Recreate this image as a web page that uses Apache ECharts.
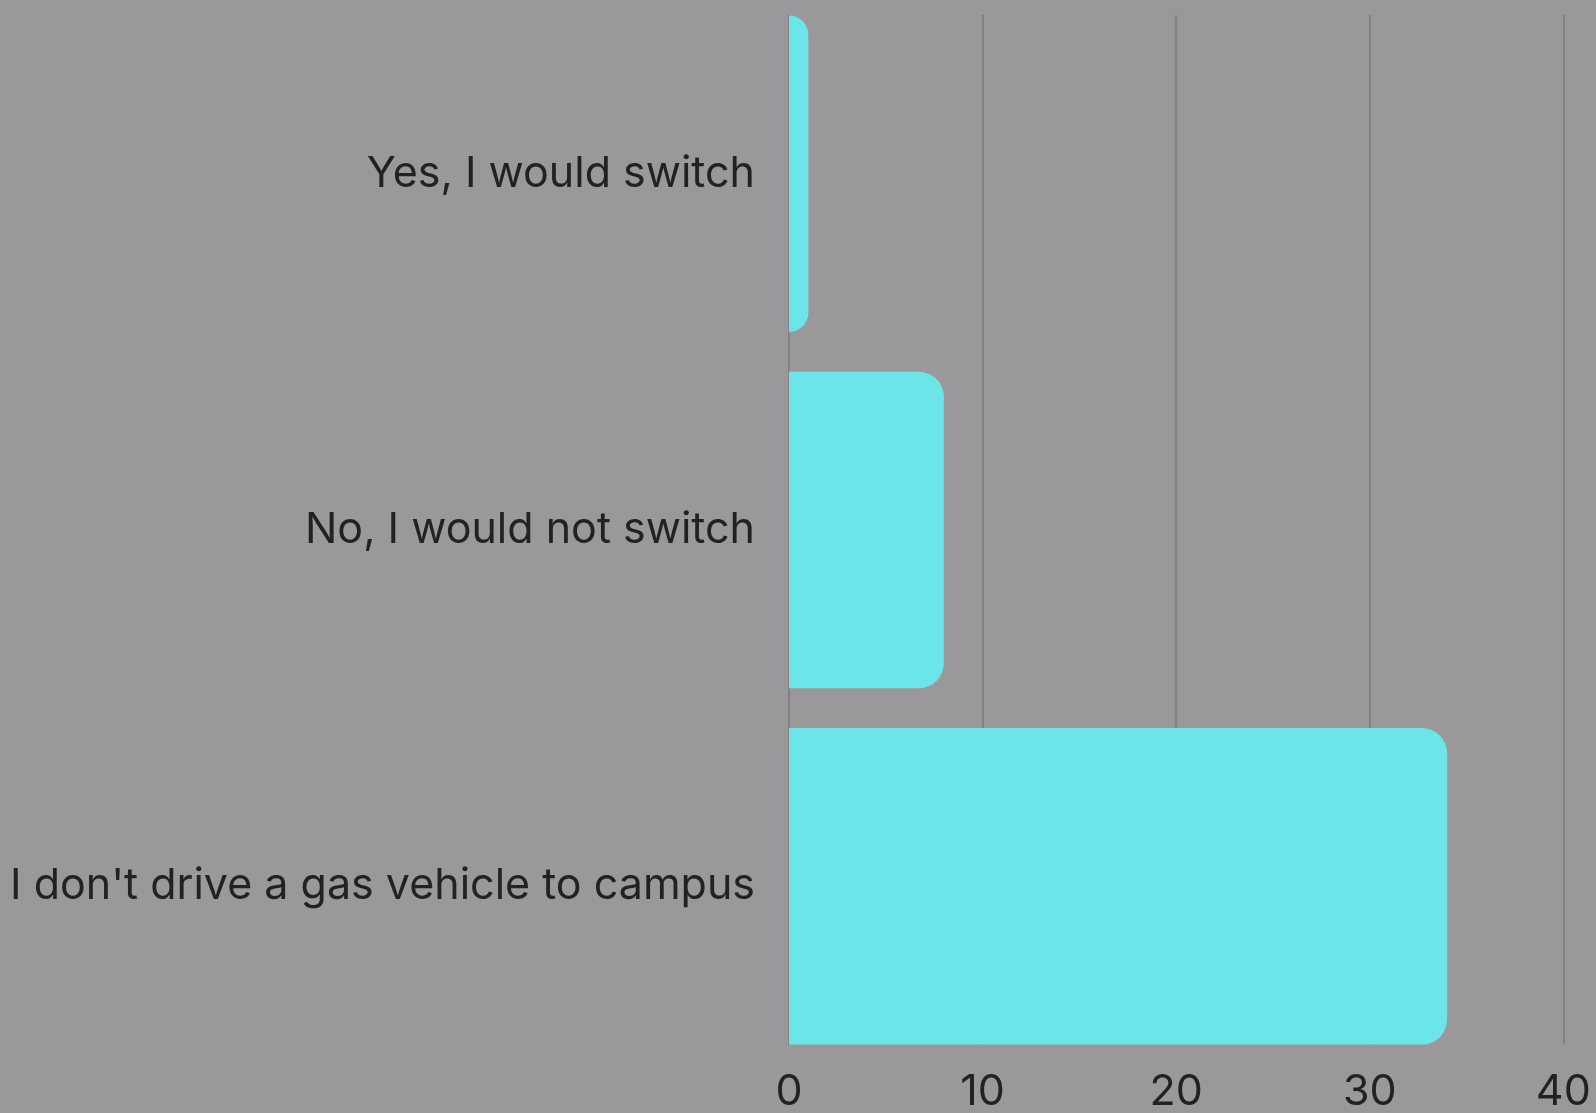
<!DOCTYPE html>
<html>
<head>
<meta charset="utf-8">
<script src="https://cdn.jsdelivr.net/npm/echarts@6/dist/echarts.min.js"></script>
<style>
  html, body { margin: 0; padding: 0; background: #9a989b; }
  #chart { width: 1596px; height: 1113px; }
</style>
</head>
<body>
<div id="chart"></div>
<script>
// survey answers, top to bottom
const answers = ['Yes, I would switch', 'No, I would not switch', "I don't drive a gas vehicle to campus"];
const counts = [1, 8, 34];
const xTicks = [0, 10, 20, 30, 40];

const chart = echarts.init(document.getElementById('chart'));
const fontFamily = 'Inter';

chart.setOption({
  backgroundColor: '#9a989b',
  animation: false,
  grid: [
    // bars
    { left: 789, right: 32.7, top: -4.5, bottom: 48.5, outerBoundsMode: 'none' },
    // gridlines and tick labels
    { left: 789, right: 32.7, top: 15, bottom: 68.3, outerBoundsMode: 'none' }
  ],
  xAxis: [
    {
      gridIndex: 0,
      type: 'value',
      min: xTicks[0],
      max: xTicks[xTicks.length - 1],
      interval: 10,
      show: false
    },
    {
      gridIndex: 1,
      type: 'value',
      min: xTicks[0],
      max: xTicks[xTicks.length - 1],
      interval: 10,
      axisLine: { show: false },
      axisTick: { show: false },
      splitLine: { show: true, lineStyle: { color: '#7c7a7e', width: 1.5 } },
      axisLabel: {
        color: '#1f2325',
        fontFamily: fontFamily,
        fontSize: 43,
        margin: 26
      }
    }
  ],
  yAxis: [
    {
      gridIndex: 0,
      type: 'category',
      inverse: true,
      data: answers,
      axisLine: { show: false },
      axisTick: { show: false },
      axisLabel: {
        color: '#1f2325',
        fontFamily: fontFamily,
        fontSize: 43,
        margin: 34
      }
    },
    { gridIndex: 1, type: 'value', min: 0, max: 1, show: false }
  ],
  series: [
    {
      type: 'bar',
      xAxisIndex: 0,
      yAxisIndex: 0,
      data: counts,
      barCategoryGap: '11.2%',
      z: 3,
      itemStyle: {
        color: '#6be5e8',
        borderRadius: [0, 25, 25, 0]
      }
    }
  ]
});
</script>
</body>
</html>
